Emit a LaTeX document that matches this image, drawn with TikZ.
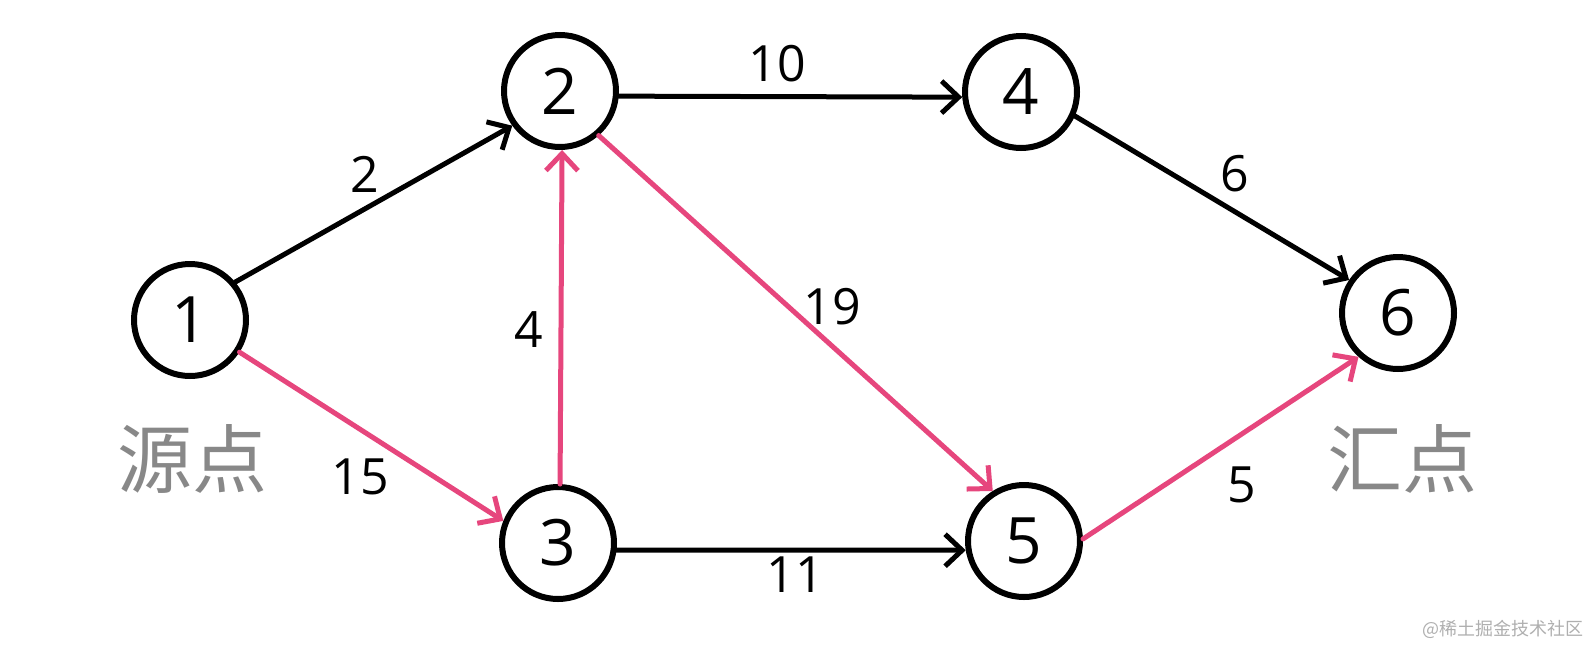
\documentclass[tikz,border=0pt]{standalone}
\usepackage{fontspec}
\setmainfont{Open Sans}
\newfontfamily\cjkfont{Noto Sans CJK SC}
\usetikzlibrary{arrows.meta}
\definecolor{pinkedge}{RGB}{230,70,125}
\definecolor{labelgray}{RGB}{136,136,136}
\definecolor{markgray}{RGB}{175,175,175}
\tikzset{
  vertex/.style={circle, draw=black, line width=6pt, minimum size=112pt, inner sep=0pt,
    font=\fontsize{64}{64}\selectfont},
  edgeline/.style={line width=5pt, line cap=round, -{Straight Barb[length=17pt,width=32pt]}},
  blackedge/.style={edgeline, draw=black},
  pinkline/.style={edgeline, draw=pinkedge},
  wlabel/.style={font=\fontsize{50}{50}\selectfont, inner sep=0pt},
  cjklabel/.style={font=\cjkfont\fontsize{75}{75}\selectfont, text=labelgray, inner sep=0pt},
  watermark/.style={font=\cjkfont\fontsize{18}{18}\selectfont, text=markgray, inner sep=0pt}
}
\begin{document}
\begin{tikzpicture}[x=1pt,y=-1pt]
\useasboundingbox (0,0) rectangle (1590,646);
\node[vertex] (n1) at (190,320) {1};
\node[vertex] (n2) at (560,91) {2};
\node[vertex] (n3) at (558,543) {3};
\node[vertex] (n4) at (1021,92) {4};
\node[vertex] (n5) at (1024,541) {5};
\node[vertex] (n6) at (1398,313) {6};

\draw[blackedge] (n1.40) -- (n2.216);
\draw[pinkline] (n1.-33) -- (n3.158);
\draw[pinkline] (n3.88) -- (n2.272);
\draw[pinkline] (n2.-49) -- (n5.122);
\draw[blackedge] (n2.-5) -- (n4.185);
\draw[blackedge] (n4.-24) -- (n6.146);
\draw[blackedge] (n3.-7) -- (n5.189);
\draw[pinkline] (n5.2) -- (n6.228);

\node[wlabel] (l12) at (365,174) {2};
\node[wlabel] (l24) at (777,64) {10};
\node[wlabel] (l46) at (1235,174) {6};
\node[wlabel] (l32) at (529,330) {4};
\node[wlabel] (l25) at (832,307) {19};
\node[wlabel] (l13) at (360,477) {15};
\node[wlabel] (l35) at (795,575) {11};
\node[wlabel] (l56) at (1242,485) {5};

\node[cjklabel] (src) at (192,459) {源点};
\node[cjklabel] (snk) at (1402,459) {汇点};
\node[watermark] (wm) at (1503,629) {@稀土掘金技术社区};
\end{tikzpicture}
\end{document}
